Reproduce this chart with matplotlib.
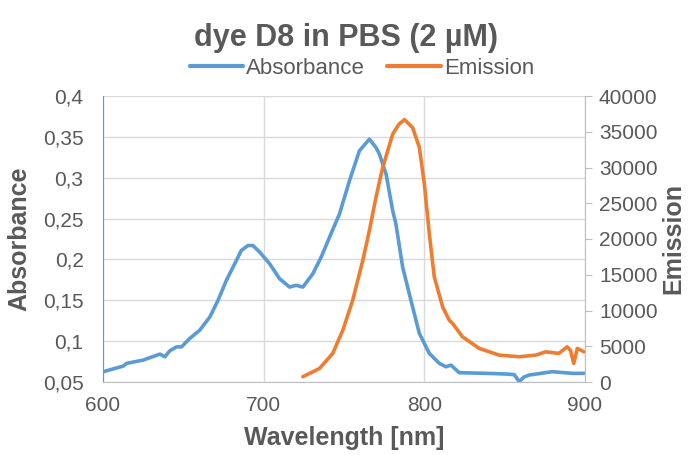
import matplotlib
matplotlib.use("Agg")
import matplotlib.pyplot as plt
from matplotlib.ticker import FuncFormatter, MultipleLocator

plt.rcParams['font.family'] = ['Liberation Sans', 'DejaVu Sans']

title = "dye D8 in PBS (2 µM)"
abs_wl = [600.2, 612.6, 614.7, 625.0, 635.4, 638.5, 641.6, 645.8, 648.9, 654.0,
          660.2, 666.5, 671.6, 676.8, 682.0, 686.1, 690.2, 693.3, 697.5, 703.7,
          709.9, 716.1, 720.3, 724.4, 730.6, 735.8, 741.0, 747.2, 753.4, 759.6,
          765.8, 769.9, 772.0, 776.2, 780.3, 782.3, 786.5, 792.7, 796.9, 803.1,
          809.3, 813.5, 816.6, 821.7, 838.3, 850.7, 856.0, 859.0, 862.0, 865.2,
          879.7, 892.1, 899.4]
abs_val = [0.0626, 0.0695, 0.0728, 0.0768, 0.0841, 0.0809, 0.0882, 0.093, 0.093, 0.1033,
           0.1134, 0.1296, 0.150, 0.1744, 0.1947, 0.211, 0.217, 0.217, 0.209, 0.1947,
           0.1764, 0.1662, 0.1683, 0.1662, 0.1825, 0.2028, 0.2272, 0.2557, 0.2963, 0.333,
           0.3472, 0.337, 0.329, 0.3045, 0.2597, 0.2435, 0.1906, 0.1418, 0.1094, 0.085,
           0.0728, 0.0686, 0.0707, 0.0614, 0.0606, 0.0598, 0.0590, 0.0504, 0.056, 0.0585,
           0.0626, 0.0606, 0.0606]
em_wl = [724.4, 734.8, 743.0, 749.3, 755.4, 761.7, 765.8, 769.9, 774.1, 780.3,
         784.0, 787.6, 792.7, 796.9, 800.0, 803.1, 806.2, 811.4, 815.5, 817.6,
         823.8, 834.2, 846.6, 859.0, 869.4, 875.6, 883.7, 888.9, 891.0, 893.0,
         895.2, 899.4]
em_val = [740, 1900, 4000, 7250, 11430, 17000, 21180, 25820, 30000, 34660,
          36000, 36700, 35580, 32800, 27700, 20720, 14680, 10500, 8640, 8180,
          6310, 4690, 3760, 3530, 3760, 4220, 4000, 4920, 4400, 2600,
          4690, 4220]

BLUE = '#5B9BD5'
ORANGE = '#ED7D31'
TXT = '#595959'
GRID = '#D9D9D9'
AX = '#BFBFBF'

fig = plt.figure(figsize=(6.91, 4.55), dpi=100)
ax = fig.add_axes([103/691, 1-382/455, (585-103)/691, (382-96)/455])
ax2 = ax.twinx()

l1, = ax.plot(abs_wl, abs_val, color=BLUE, lw=2.6, solid_capstyle='round',
              solid_joinstyle='round', label='Absorbance')
l2, = ax2.plot(em_wl, em_val, color=ORANGE, lw=2.6, solid_capstyle='round',
               solid_joinstyle='round', label='Emission')

ax.set_xlim(600, 900)
ax.set_ylim(0.05, 0.4)
ax2.set_ylim(0, 40000)
ax.xaxis.set_major_locator(MultipleLocator(100))
ax.yaxis.set_major_locator(MultipleLocator(0.05))
ax2.yaxis.set_major_locator(MultipleLocator(5000))
ax.yaxis.set_major_formatter(FuncFormatter(lambda v, p: ('%g' % round(v, 3)).replace('.', ',')))

ax.grid(True, color=GRID, lw=1)
ax.set_axisbelow(True)
for a in (ax, ax2):
    for s in ('top', 'left', 'right', 'bottom'):
        a.spines[s].set_visible(False)
ax.spines['left'].set_visible(True)
ax.spines['left'].set_color(BLUE)
ax.spines['bottom'].set_visible(True)
ax.spines['bottom'].set_color(AX)
ax2.spines['right'].set_visible(True)
ax2.spines['right'].set_color(AX)

ax.tick_params(axis='y', length=0, pad=14, labelsize=15, labelcolor=TXT)
ax.tick_params(axis='x', length=0, pad=10, labelsize=15, labelcolor=TXT)
ax2.tick_params(axis='y', length=5, color=AX, pad=5, labelsize=15, labelcolor=TXT)

ax.set_xlabel('Wavelength [nm]', fontsize=18, fontweight='bold', color=TXT, labelpad=8)
ax.set_ylabel('Absorbance', fontsize=18, fontweight='bold', color=TXT, labelpad=8)
ax2.set_ylabel('Emission', fontsize=18, fontweight='bold', color=TXT, labelpad=3)

fig.text(0.5, 1-38/455, title, ha='center', va='center', fontsize=22,
         fontweight='bold', color=TXT)
leg = fig.legend(handles=[l1, l2], loc='center', bbox_to_anchor=(362/691, 1-68/455),
                 ncol=2, frameon=False, fontsize=16, handlelength=2.4,
                 handletextpad=0.15, columnspacing=1.0, labelcolor=TXT)
for h in leg.get_lines():
    h.set_linewidth(3)

fig.savefig('out.png', dpi=100)
